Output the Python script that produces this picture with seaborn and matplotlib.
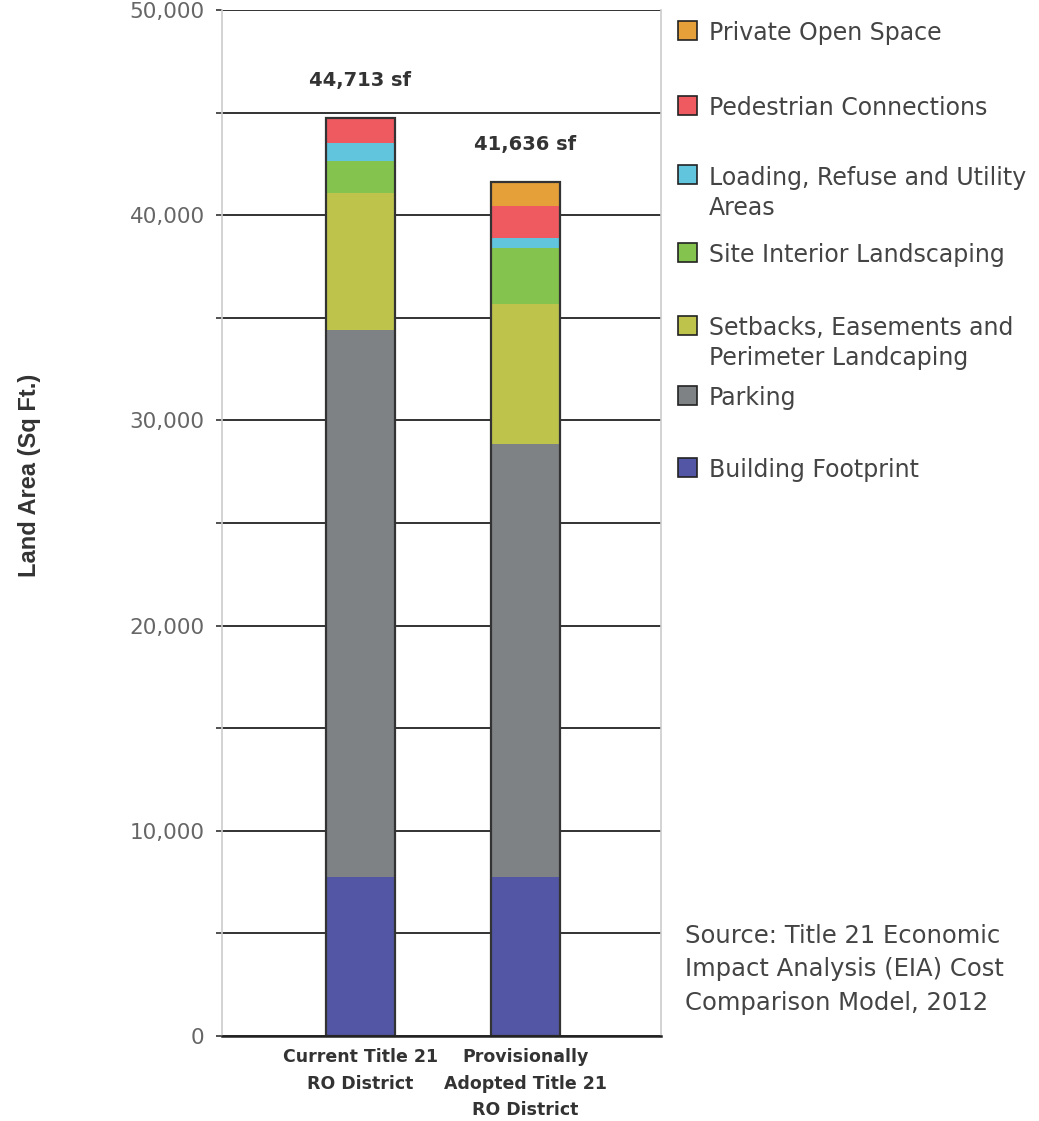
import numpy as np
import matplotlib
matplotlib.use("Agg")
import matplotlib.pyplot as plt
from matplotlib.patches import Rectangle
from matplotlib.ticker import MultipleLocator, FuncFormatter
import seaborn as sns

# ---- data -------------------------------------------------------------
districts = ["Current Title 21\nRO District",
             "Provisionally\nAdopted Title 21\nRO District"]

# land-use components, bottom of the stack first
categories = ["Building Footprint",
              "Parking",
              "Setbacks, Easements and\nPerimeter Landcaping",
              "Site Interior Landscaping",
              "Loading, Refuse and Utility\nAreas",
              "Pedestrian Connections",
              "Private Open Space"]

building_footprint = [7760, 7760]
parking = [26657, 21113]
setbacks = [6683, 6820]
site_interior = [1536, 2717]
loading_refuse = [859, 472]
pedestrian = [1218, 1589]
private_open = [0, 1165]

totals = [44713, 41636]

colors = ["#5356A4", "#7F8284", "#BEC44B", "#84C44E",
          "#62C5DE", "#EE5A60", "#E6A03A"]

# ---- figure -----------------------------------------------------------
W, H = 1039, 1121
sns.set_style("white")
plt.rcParams["font.family"] = ["DejaVu Sans"]

fig = plt.figure(figsize=(W / 100, H / 100), dpi=100)
ax = fig.add_axes([222 / W, 1 - 1036 / H, 439 / W, 1026 / H])

stack = np.array([building_footprint, parking, setbacks, site_interior,
                  loading_refuse, pedestrian, private_open], dtype=float)
cumulative = np.cumsum(stack, axis=0)

bar_w = 0.418
# draw the running totals from the top layer down so each segment shows
for k in reversed(range(len(categories))):
    sns.barplot(x=districts, y=cumulative[k], color=colors[k],
                saturation=1, width=bar_w, ax=ax, linewidth=0)

# outline around each full bar
sns.barplot(x=districts, y=totals, color="#333333", saturation=1,
            width=bar_w, ax=ax)
for patch in ax.containers[-1]:
    patch.set_facecolor("none")
    patch.set_edgecolor("#333333")
    patch.set_linewidth(1.6)

# total labels above bars
for i, t in enumerate(totals):
    ax.annotate(f"{t:,} sf", (i, t), xytext=(0, 27),
                textcoords="offset points", ha="center", va="center",
                fontsize=14, fontweight="bold", color="#333333")

# ---- axes styling -----------------------------------------------------
ax.set_xlim(-0.838, 1.821)
ax.set_ylim(0, 50000)
ax.set_axisbelow(True)
ax.yaxis.set_major_locator(MultipleLocator(10000))
ax.yaxis.set_minor_locator(MultipleLocator(5000))
ax.yaxis.set_major_formatter(FuncFormatter(lambda v, p: f"{int(v):,}"))
ax.grid(axis="y", which="both", color="#222222", linewidth=1.3)
ax.grid(axis="x", visible=False)

ax.tick_params(axis="y", which="both", direction="out", length=4.5,
               width=1.1, color="#222222", labelsize=15.5,
               labelcolor="#666666", pad=8, left=True)
ax.tick_params(axis="x", length=0, pad=9)
for lbl in ax.get_xticklabels():
    lbl.set_fontsize(12.5)
    lbl.set_fontweight("bold")
    lbl.set_color("#333333")
    lbl.set_linespacing(1.6)

for side in ("left", "right"):
    ax.spines[side].set_visible(True)
    ax.spines[side].set_color("#cccccc")
    ax.spines[side].set_linewidth(1.2)
ax.spines["top"].set_visible(False)
ax.spines["bottom"].set_color("#222222")
ax.spines["bottom"].set_linewidth(1.8)
ax.set_xlabel("")
ax.set_ylabel("")

fig.text(30 / W, 1 - 475 / H, "Land Area (Sq Ft.)", rotation=90,
         ha="center", va="center", fontsize=17, fontweight="bold",
         family=["Liberation Sans", "DejaVu Sans"], color="#333333")

# ---- legend (top entry = top of stack) --------------------------------
legend_y = [30, 105, 175, 252, 325, 395, 467]
fs = 17
fpx = fs * 100 / 72
for (label, c), yc in zip(list(zip(categories, colors))[::-1], legend_y):
    fig.add_artist(Rectangle((678 / W, 1 - (yc + 9.5) / H), 19 / W, 19 / H,
                             transform=fig.transFigure, facecolor=c,
                             edgecolor="#222222", linewidth=1.2))
    fig.text(709 / W, 1 - (yc - 0.395 * fpx) / H, label, ha="left",
             va="top", fontsize=fs, color="#444444", linespacing=1.32)

fig.text(685 / W, 1 - (933 - 0.395 * fpx) / H,
         "Source: Title 21 Economic\nImpact Analysis (EIA) Cost\n"
         "Comparison Model, 2012",
         ha="left", va="top", fontsize=17.5, color="#444444",
         linespacing=1.5)

fig.savefig("out.png", dpi=100)
